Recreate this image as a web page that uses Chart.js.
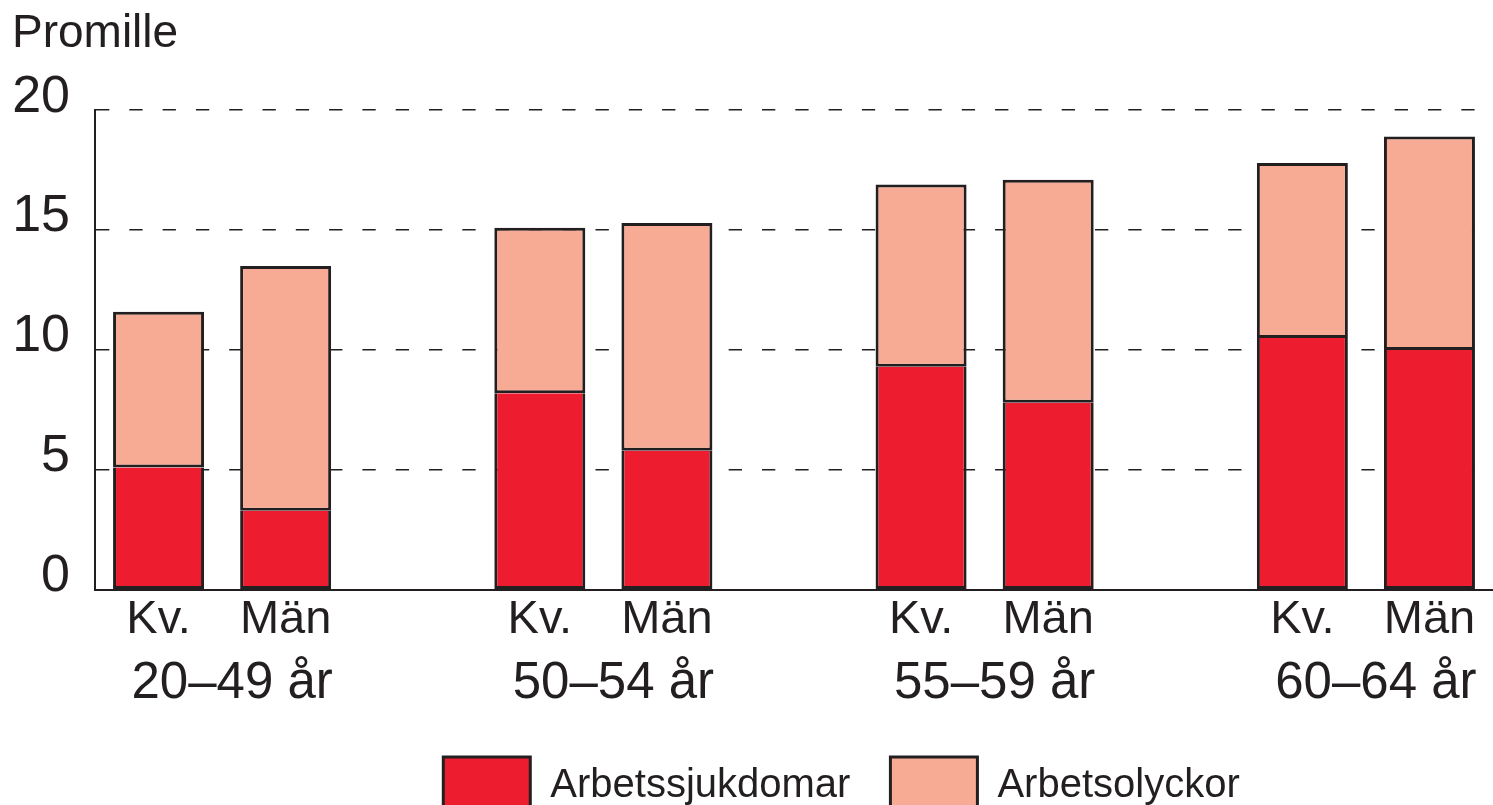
<!DOCTYPE html>
<html>
<head>
<meta charset="utf-8">
<script src="https://cdn.jsdelivr.net/npm/chart.js@4/dist/chart.umd.min.js"></script>
<style>
  html, body { margin: 0; padding: 0; background: #ffffff; }
  #wrap { width: 1493px; height: 805px; }
</style>
</head>
<body>
<div id="wrap"><canvas id="c" width="1493" height="805"></canvas></div>
<script>
// ---- data ----
const categories = ['Kv.', 'Män', '', 'Kv.', 'Män', '', 'Kv.', 'Män', '', 'Kv.', 'Män'];
const groupLabels = ['20–49 år', '50–54 år', '55–59 år', '60–64 år'];
const arbetssjukdomar = [5.1, 3.3, null, 8.2, 5.8, null, 9.3, 7.8, null, 10.5, 10.0];
const arbetsolyckor = [6.5, 10.2, null, 6.9, 9.5, null, 7.6, 9.3, null, 7.3, 8.9];
const yTicks = [0, 5, 10, 15, 20];
const seriesNames = ['Arbetssjukdomar', 'Arbetsolyckor'];

// group centre positions (between Kv. and Män of each group)
const groupPositions = [];
categories.forEach((c, i) => { if (c === 'Kv.') groupPositions.push(i + 0.5); });

const INK = '#231f20';
const FONT = "'Liberation Sans', Arial, Helvetica, sans-serif";

const shiftLegend = {
  id: 'shiftLegend',
  afterLayout(chart) {
    chart.legend.left += 89;
    chart.legend.right += 89;
  }
};

new Chart(document.getElementById('c'), {
  type: 'bar',
  data: {
    labels: categories,
    datasets: [
      {
        label: seriesNames[0],
        data: arbetssjukdomar,
        backgroundColor: '#ed1c2e',
        borderColor: INK,
        borderWidth: 3,
        borderSkipped: 'top'
      },
      {
        label: seriesNames[1],
        data: arbetsolyckor,
        backgroundColor: '#f7aa94',
        borderColor: INK,
        borderWidth: 3,
        borderSkipped: false
      }
    ]
  },
  plugins: [shiftLegend],
  options: {
    responsive: false,
    animation: false,
    devicePixelRatio: 1,
    layout: { padding: { left: 12, right: 0, top: 0, bottom: 0 } },
    datasets: {
      bar: { barPercentage: 0.716, categoryPercentage: 1.0 }
    },
    plugins: {
      title: {
        display: true,
        text: 'Promille',
        align: 'start',
        color: INK,
        font: { family: FONT, size: 46, weight: 'normal', lineHeight: 1.2 },
        padding: { top: 7, bottom: 48 }
      },
      legend: {
        display: true,
        position: 'bottom',
        align: 'center',
        maxHeight: 88,
        labels: {
          boxWidth: 87,
          boxHeight: 58,
          padding: 40,
          color: INK,
          font: { family: FONT, size: 40 }
        }
      },
      tooltip: { enabled: false }
    },
    scales: {
      x: {
        type: 'category',
        stacked: true,
        position: 'bottom',
        grid: { display: false, drawTicks: false },
        border: { display: true, color: INK, width: 2 },
        ticks: {
          color: INK,
          font: { family: FONT, size: 47 },
          padding: 2.5,
          maxRotation: 0,
          autoSkip: false
        }
      },
      groups: {
        type: 'linear',
        axis: 'x',
        position: 'bottom',
        offset: false,
        min: -0.5,
        max: categories.length - 0.5,
        grid: { display: false, drawTicks: false, offset: false },
        border: { display: false },
        afterBuildTicks(scale) {
          scale.ticks = groupPositions.map(v => ({ value: v }));
        },
        ticks: {
          color: INK,
          font: { family: FONT, size: 51 },
          padding: 2.3,
          labelOffset: 10,
          maxRotation: 0,
          autoSkip: false,
          callback(value) {
            const idx = groupPositions.indexOf(value);
            return idx >= 0 ? groupLabels[idx] : '';
          }
        }
      },
      y: {
        type: 'linear',
        stacked: true,
        min: yTicks[0],
        max: yTicks[yTicks.length - 1],
        afterBuildTicks(scale) {
          scale.ticks = yTicks.map(v => ({ value: v }));
        },
        afterFit(scale) {
          scale.width = 83;
        },
        grid: { display: true, color: INK, lineWidth: 1.6, drawTicks: false },
        border: { display: true, color: INK, width: 2, dash: [13.3, 20] },
        ticks: {
          color: INK,
          font: { family: FONT, size: 52 },
          padding: 25,
          labelOffset: -13
        }
      }
    }
  }
});
</script>
</body>
</html>
